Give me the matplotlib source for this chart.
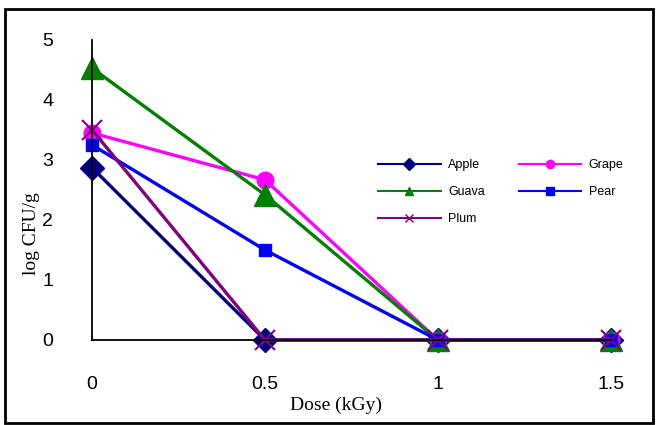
import matplotlib
matplotlib.use('Agg')
import matplotlib.pyplot as plt
from matplotlib.lines import Line2D
from matplotlib.patches import Rectangle

dose = [0, 0.5, 1, 1.5]
apple = [2.87, 0, 0, 0]
grape = [3.45, 2.67, 0, 0]
guava = [4.53, 2.42, 0, 0]
pear = [3.25, 1.5, 0, 0]
plum = [3.5, 0, 0, 0]

series = [
    ("Apple", apple, "#000080", "D", 12),
    ("Grape", grape, "#FF00FF", "o", 12),
    ("Guava", guava, "#008000", "^", 16),
    ("Pear", pear, "#0000FF", "s", 9),
    ("Plum", plum, "#800080", "x", 14),
]

fig = plt.figure(figsize=(6.58, 4.25), dpi=100)
fig.patches.append(Rectangle((0.008, 0.005), 0.985, 0.975, transform=fig.transFigure,
                             fill=False, edgecolor="black", linewidth=2))
ax = fig.add_axes([0.14, 0.2, 0.788, 0.706])

for name, vals, color, mk, ms in series:
    ax.plot(dose, vals, color=color, marker=mk, markersize=ms, linewidth=2.4,
            markeredgewidth=1.5 if mk == "x" else 1, clip_on=False, label=name)

ax.set_xlim(0, 1.5)
ax.set_ylim(0, 5)
ax.set_xticks([0, 0.5, 1, 1.5])
ax.set_xticklabels(["0", "0.5", "1", "1.5"])
ax.set_yticks([0, 1, 2, 3, 4, 5])
ax.tick_params(length=0, labelsize=14, pad=28)
ax.tick_params(axis="x", pad=26)
for lab in ax.get_xticklabels() + ax.get_yticklabels():
    lab.set_family("Liberation Sans")
ax.spines["top"].set_visible(False)
ax.spines["right"].set_visible(False)
ax.spines["left"].set_linewidth(1.3)
ax.spines["bottom"].set_linewidth(1.3)

fig.text(0.44, 0.035, "Dose (kGy)", family="Liberation Serif", fontsize=14)
fig.text(0.035, 0.45, "log CFU/g", family="Liberation Serif", fontsize=14,
         rotation=90, va="center")

# legend fills column-wise: Apple, Guava, Plum | Grape, Pear
order = [0, 2, 4, 1, 3]
handles = [Line2D([0], [0], color=series[i][2], marker=series[i][3],
                  markersize=6, linewidth=1.5) for i in order]
ax.legend(handles, [series[i][0] for i in order], ncol=2, frameon=False,
          loc="upper left", bbox_to_anchor=(0.53, 0.64),
          handlelength=5, columnspacing=2.7, labelspacing=1.2, handletextpad=0.6,
          prop={"family": "Liberation Sans", "size": 9})

fig.savefig("out.png", dpi=100)
